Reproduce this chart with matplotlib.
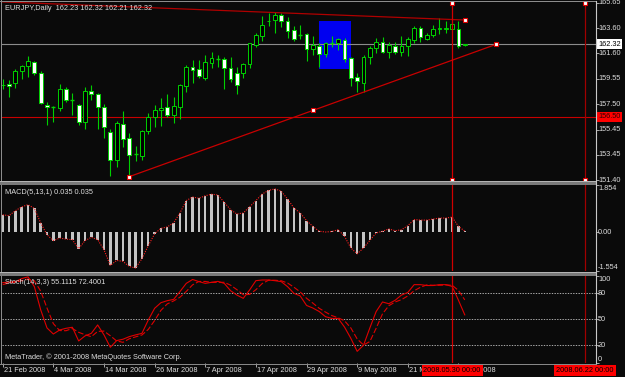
import matplotlib
matplotlib.use("Agg")
import matplotlib.pyplot as plt
from matplotlib.patches import Rectangle

plt.rcParams['font.family'] = ['Liberation Sans', 'DejaVu Sans']

# ---------------- data ----------------
title_main = "EURJPY,Daily  162.23 162.32 162.21 162.32"
title_macd = "MACD(5,13,1) 0.035 0.035"
title_stoch = "Stoch(14,3,3) 55.1115 72.4001"
copyright_txt = "MetaTrader, \u00a9 2001-2008 MetaQuotes Software Corp."

opens = [159.02, 159.11, 159.19, 160.20, 160.55, 160.90, 160.04, 157.41, 157.27, 157.22,
         158.70, 157.85, 157.41, 156.05, 158.57, 158.30, 157.28, 155.27, 153.01, 155.88,
         154.76, 153.47, 153.36, 155.32, 156.45, 157.06, 157.25, 156.61, 157.30, 158.99,
         160.52, 160.34, 159.59, 160.84, 161.15, 161.12, 160.39, 160.04, 159.99, 160.72,
         162.27, 162.99, 164.17, 164.28, 164.69, 164.23, 163.45, 163.05, 163.13, 161.92,
         162.19, 161.52, 162.40, 162.41, 162.67, 161.20, 159.67, 159.19, 161.28, 162.05,
         162.49, 161.73, 162.19, 161.73, 162.19, 162.67, 163.64, 162.75, 163.07, 163.52,
         163.58, 163.58, 163.56, 162.23]
highs = [159.51, 159.45, 160.31, 160.68, 161.38, 160.98, 160.15, 157.68, 157.38, 159.13,
         158.89, 158.38, 157.52, 158.89, 159.07, 158.38, 157.50, 155.48, 156.13, 156.96,
         155.16, 154.14, 155.43, 156.77, 157.44, 158.00, 158.32, 158.11, 159.13, 160.66,
         161.06, 161.06, 161.44, 161.71, 161.46, 161.33, 161.28, 160.52, 160.84, 162.46,
         163.26, 164.60, 164.82, 164.93, 164.87, 164.50, 163.80, 163.88, 163.21, 162.99,
         162.41, 162.54, 162.99, 162.83, 162.81, 161.33, 160.04, 161.46, 162.19, 162.81,
         162.89, 162.54, 162.49, 162.99, 162.94, 163.80, 163.80, 163.26, 163.88, 164.42,
         164.23, 164.15, 164.23, 162.32]
lows = [158.70, 158.11, 158.83, 159.56, 159.72, 159.88, 157.52, 155.85, 156.05, 156.96,
        157.66, 156.63, 155.85, 155.53, 157.87, 155.48, 154.81, 151.72, 152.47, 154.08,
        151.67, 152.95, 153.01, 155.10, 155.64, 155.75, 156.45, 156.01, 156.29, 158.51,
        159.23, 159.59, 159.45, 160.39, 160.52, 158.70, 159.29, 158.30, 159.64, 160.39,
        162.13, 162.59, 163.80, 163.21, 163.74, 162.86, 162.62, 162.73, 161.01, 161.46,
        160.52, 161.28, 162.13, 161.87, 160.93, 158.97, 158.51, 158.51, 160.74, 161.65,
        161.60, 161.20, 161.55, 161.38, 161.38, 162.41, 162.54, 162.67, 162.89, 163.16,
        163.21, 163.53, 162.00, 162.21]
closes = [159.08, 158.93, 160.20, 160.58, 160.96, 160.04, 157.62, 157.25, 157.28, 158.70,
          157.84, 157.83, 156.09, 158.54, 158.30, 157.28, 155.64, 153.01, 155.97, 154.73,
          153.44, 153.50, 155.32, 156.45, 157.04, 157.22, 156.66, 157.33, 159.05, 160.52,
          160.26, 159.75, 160.88, 161.20, 161.20, 160.39, 159.56, 159.05, 160.72, 162.41,
          163.07, 163.86, 164.23, 164.69, 164.20, 163.42, 162.73, 163.10, 161.92, 162.27,
          161.55, 162.41, 162.42, 162.73, 161.12, 159.64, 159.37, 161.28, 162.05, 162.49,
          161.73, 162.27, 161.73, 162.21, 162.73, 163.66, 162.94, 163.07, 163.53, 163.60,
          163.65, 163.96, 162.22, 162.32]

macd_hist = [0.68, 0.645, 0.84, 0.99, 1.08, 0.93, 0.36, -0.11, -0.34, -0.24,
             -0.28, -0.30, -0.66, -0.34, -0.21, -0.30, -0.70, -1.32, -1.12, -1.16,
             -1.36, -1.42, -1.05, -0.54, -0.07, 0.145, 0.20, 0.36, 0.75, 1.24,
             1.38, 1.33, 1.43, 1.49, 1.46, 1.17, 0.88, 0.71, 0.75, 0.99,
             1.24, 1.50, 1.64, 1.70, 1.61, 1.30, 0.95, 0.75, 0.45, 0.22,
             0.03, 0.00, 0.02, 0.09, -0.17, -0.63, -0.86, -0.63, -0.33, -0.04,
             0.03, 0.12, 0.05, 0.09, 0.25, 0.49, 0.47, 0.47, 0.51, 0.55,
             0.55, 0.59, 0.22, 0.035]
# signal period 1 -> identical to the MACD values
macd_signal = macd_hist

stoch_main = [92.3, 93.0, 93.5, 97.0, 99.0, 87.7, 61.0, 40.0, 33.0, 37.7,
              39.6, 40.8, 25.0, 30.8, 33.8, 43.5, 32.0, 17.7, 25.4, 27.0,
              30.0, 32.0, 33.8, 49.2, 62.7, 69.2, 71.5, 73.0, 82.0, 91.5,
              96.0, 93.5, 91.5, 92.7, 93.8, 91.5, 83.0, 78.0, 74.2, 83.8,
              94.6, 95.4, 95.4, 94.6, 93.5, 87.7, 80.0, 77.0, 66.0, 63.0,
              59.0, 53.0, 51.0, 51.0, 41.0, 28.0, 13.0, 20.0, 40.0, 59.0,
              70.0, 68.0, 72.0, 78.0, 81.0, 90.0, 90.0, 89.0, 89.0, 90.0,
              90.0, 88.0, 72.0, 55.11]
stoch_signal = [90.0, 92.0, 93.0, 94.5, 96.5, 94.5, 82.5, 63.0, 45.0, 37.0,
                36.8, 39.4, 35.0, 32.2, 29.9, 36.0, 36.4, 31.0, 25.0, 23.4,
                27.5, 29.7, 31.9, 38.3, 48.6, 60.4, 67.8, 71.2, 75.5, 82.2,
                89.8, 93.7, 93.7, 92.6, 92.7, 92.7, 89.4, 84.2, 78.4, 78.7,
                84.2, 91.3, 95.1, 95.1, 94.5, 91.9, 87.1, 81.6, 74.3, 68.7,
                62.7, 58.3, 54.3, 51.7, 48.3, 40.0, 27.3, 20.3, 24.3, 39.7,
                56.3, 65.7, 70.0, 72.7, 77.0, 83.0, 87.0, 89.7, 89.3, 89.3,
                89.7, 89.3, 83.3, 72.40]

date_tick_bars = [0, 8, 16, 24, 32, 40, 48, 56, 64, 72]
date_tick_labels = ["21 Feb 2008", "4 Mar 2008", "14 Mar 2008", "26 Mar 2008", "7 Apr 2008",
                    "17 Apr 2008", "29 Apr 2008", "9 May 2008", "21 May 2008", "2 Jun 2008"]
price_ticks = [165.65, 163.60, 161.60, 159.55, 157.50, 155.45, 153.45, 151.40]
price_labels = ["165.65", "163.60", "161.60", "159.55", "157.50", "155.45", "153.45", "151.40"]
macd_ticks = [1.854, 0.0, -1.554]
macd_labels = ["1.854", "0.00", "-1.554"]
stoch_ticks = [100, 80, 50, 20, 0]
stoch_levels = [20, 50, 80]

bid_price = 162.32
hline_price = 156.50
vline_bars = [71, 92]
vline_labels = ["2008.05.30 00:00", "2008.06.22 00:00"]
trend_low_x = [20, 78]
trend_low_y = [151.67, 162.33]
trend_high_x = [0, 73]
trend_high_y = [165.74, 164.28]
box_bars = (50, 55)
box_prices = (160.34, 164.23)

# ---------------- layout ----------------
W, H = 625, 377
BG = '#0a0a0a'
TXT = '#dcdcdc'
FS = 5.3
fig = plt.figure(figsize=(W / 100, H / 100), dpi=100, facecolor=BG)


def rect(x0, y0, x1, y1):
    return [x0 / W, 1 - y1 / H, (x1 - x0) / W, (y1 - y0) / H]


X0_PX, STEP_PX = 2.7, 6.33
AX_L, AX_R = 2, 595.5
xlim = ((AX_L - X0_PX) / STEP_PX, (AX_R - X0_PX) / STEP_PX)

ax = fig.add_axes(rect(AX_L, 2, AX_R, 181))
axm = fig.add_axes(rect(AX_L, 185, AX_R, 271.4))
axs = fig.add_axes(rect(AX_L, 276, AX_R, 362.6))
for a in (ax, axm, axs):
    a.set_facecolor(BG)
    for s in a.spines.values():
        s.set_visible(False)
    a.set_xlim(*xlim)
    a.yaxis.tick_right()
    a.tick_params(axis='y', length=2.5, width=0.6, color='#c0c0c0', labelright=False)
    a.tick_params(axis='x', bottom=False, labelbottom=False)

ax.set_ylim(151.32, 165.73)
axm.set_ylim(-1.554, 1.854)
axs.set_ylim(0, 100)
ax.set_yticks(price_ticks)
axm.set_yticks(macd_ticks)
axs.set_yticks(stoch_ticks)
axs.set_xticks(date_tick_bars)
axs.tick_params(axis='x', bottom=True, length=3, width=0.6, color='#c0c0c0', direction='out')

# ---------------- main panel ----------------
WICK = '#00d000'
EDGE = '#00d000'
ax.add_patch(Rectangle((box_bars[0], box_prices[0]), box_bars[1] - box_bars[0],
                       box_prices[1] - box_prices[0], facecolor='#0000f0', edgecolor='none', zorder=0.5))
ax.axhline(bid_price, color='#8c8c8c', lw=0.8, zorder=1)
ax.axhline(hline_price, color='#c80000', lw=0.8, zorder=1)

for i, (o, h, l, c) in enumerate(zip(opens, highs, lows, closes)):
    ax.vlines(i, l, h, color=WICK, lw=0.8, zorder=2)
    if abs(c - o) < 0.05:
        ax.hlines((o + c) / 2, i - 0.3, i + 0.3, color=WICK, lw=1.0, zorder=3)
    else:
        ax.bar(i, abs(c - o), bottom=min(o, c), width=0.6,
               facecolor='white' if c < o else 'black', edgecolor=EDGE, lw=0.7, zorder=3)

ax.plot(trend_high_x, trend_high_y, color='#b00000', lw=0.9, zorder=4)
ax.plot(trend_low_x, trend_low_y, color='#c80000', lw=0.9, zorder=4)
mk = dict(marker='s', markersize=3.2, markerfacecolor='white', markeredgecolor='#e00000',
          markeredgewidth=0.8, linestyle='none', zorder=6, clip_on=False)
ax.plot([trend_high_x[1]], [trend_high_y[1]], **mk)
ax.plot(trend_low_x + [sum(trend_low_x) / 2], trend_low_y + [sum(trend_low_y) / 2], **mk)

vcolors = ['#d00000', '#a00000']
for a in (ax, axm, axs):
    for vb, vc in zip(vline_bars, vcolors):
        a.axvline(vb, color=vc, lw=0.9, zorder=5)
for vb in vline_bars:
    ax.plot([vb, vb], [price_ticks[0], price_ticks[-1]], **mk)

ytr = ax.get_yaxis_transform()
lx = (598 - AX_L) / (AX_R - AX_L)
for p, lab in zip(price_ticks, price_labels):
    ax.text(lx, p, lab, transform=ytr, ha='left', va='center', fontsize=FS, color=TXT, clip_on=False)
ax.text(lx, bid_price, f"{bid_price:.2f}", transform=ytr, ha='left', va='center', fontsize=FS,
        color='black', clip_on=False, zorder=10,
        bbox=dict(boxstyle='square,pad=0.2', facecolor='white', edgecolor='none'))
ax.text(lx, hline_price, f"{hline_price:.2f}", transform=ytr, ha='left', va='center', fontsize=FS,
        color='#300000', clip_on=False, zorder=10,
        bbox=dict(boxstyle='square,pad=0.2', facecolor='#ff0000', edgecolor='none'))

# ---------------- MACD panel ----------------
xs = list(range(len(macd_hist)))
axm.bar(xs, macd_hist, width=0.38, color='#c4c4c4', zorder=2)
axm.plot(xs, macd_signal, color='#ff2020', lw=0.8, ls=(0, (1, 1.2)), zorder=3)
mtr = axm.get_yaxis_transform()
for v, lab, va in zip(macd_ticks, macd_labels, ['top', 'center', 'bottom']):
    axm.text(lx, v, lab, transform=mtr, ha='left', va=va, fontsize=FS, color=TXT, clip_on=False)

# ---------------- Stoch panel ----------------
for lv in stoch_levels:
    axs.axhline(lv, color='#c8c8c8', lw=0.6, ls=(0, (1.6, 1.6)), zorder=1)
axs.plot(xs, stoch_main, color='#e00000', lw=0.8, zorder=3)
axs.plot(xs, stoch_signal, color='#e00000', lw=0.8, ls=(0, (5, 2)), zorder=3)
str_ = axs.get_yaxis_transform()
for v, va in zip(stoch_ticks, ['top', 'center', 'center', 'center', 'bottom']):
    axs.text(lx, v, str(v), transform=str_, ha='left', va=va, fontsize=FS, color=TXT, clip_on=False)

xtr = axs.get_xaxis_transform()
ylab = (362.6 - 370.5) / (362.6 - 276)
for b, lab in zip(date_tick_bars, date_tick_labels):
    axs.text(b + 0.15, ylab, lab, transform=xtr, ha='left', va='center', fontsize=FS, color=TXT, clip_on=False)
for vb, lab in zip(vline_bars, vline_labels):
    axs.text(vb, ylab, lab, transform=xtr, ha='center', va='center', fontsize=FS, color='black',
             clip_on=False, zorder=10,
             bbox=dict(boxstyle='square,pad=0.25', facecolor='#ff0000', edgecolor='none'))

# ---------------- frame, separators, titles ----------------
ov = fig.add_axes([0, 0, 1, 1])
ov.set_xlim(0, W)
ov.set_ylim(H, 0)
ov.axis('off')
ov.patch.set_alpha(0)
ov.add_patch(Rectangle((0, 0.5), AX_R, 1.3, facecolor='#8c8c8c', edgecolor='none'))
ov.add_patch(Rectangle((0.5, 0), 1.3, 364, facecolor='#8c8c8c', edgecolor='none'))
ov.add_patch(Rectangle((0, 181), AX_R, 3.5, facecolor='#7a7a7a', edgecolor='none'))
ov.add_patch(Rectangle((0, 181), AX_R, 1.0, facecolor='#b4b4b4', edgecolor='none'))
ov.add_patch(Rectangle((0, 272), AX_R, 3.5, facecolor='#7a7a7a', edgecolor='none'))
ov.add_patch(Rectangle((0, 272), AX_R, 1.0, facecolor='#b4b4b4', edgecolor='none'))
ov.plot([AX_R, AX_R], [0.5, 364], color='#c8c8c8', lw=0.8)
ov.plot([0, AX_R], [363.5, 363.5], color='#8c8c8c', lw=0.7)

fig.text(5 / W, 1 - 8 / H, title_main, fontsize=FS, color=TXT, ha='left', va='center')
fig.text(5 / W, 1 - 192 / H, title_macd, fontsize=FS, color=TXT, ha='left', va='center')
fig.text(5 / W, 1 - 283 / H, title_stoch, fontsize=FS, color=TXT, ha='left', va='center')
fig.text(5 / W, 1 - 357 / H, copyright_txt, fontsize=FS, color=TXT, ha='left', va='center')

fig.savefig('out.png', dpi=100, facecolor=BG)
